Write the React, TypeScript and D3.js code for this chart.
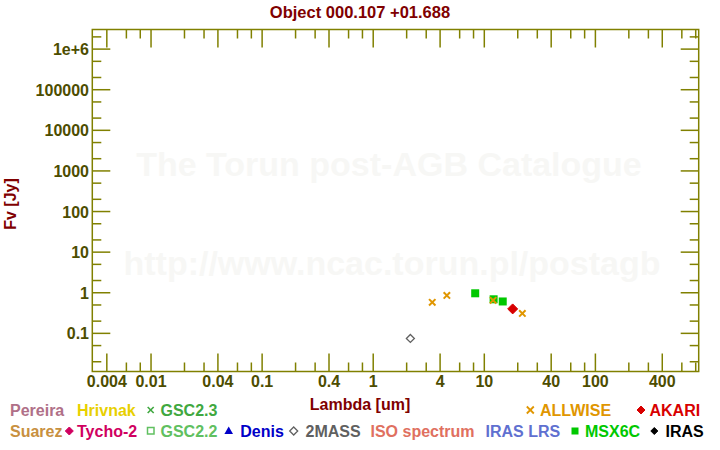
import React from "react";
import * as d3 from "d3";

const W = 720;
const H = 450;

// Data
const allwiseLambda = [3.4, 4.6, 12, 22];
const allwiseFlux = [0.58, 0.86, 0.65, 0.31];
const msxLambda = [8.28, 12.13, 14.65];
const msxFlux = [0.97, 0.69, 0.61];
const akariLambda = [18];
const akariFlux = [0.4];
const twomassLambda = [2.16];
const twomassFlux = [0.075];

const xMajor = [0.004, 0.01, 0.04, 0.1, 0.4, 1, 4, 10, 40, 100, 400];
const xMajorLabels = ["0.004", "0.01", "0.04", "0.1", "0.4", "1", "4", "10", "40", "100", "400"];
const xMinor = [0.006, 0.008, 0.02, 0.03, 0.06, 0.08, 0.2, 0.3, 0.6, 0.8, 2, 3, 6, 8, 20, 30, 60, 80, 200, 300, 600, 800];
const yMajor = [0.1, 1, 10, 100, 1000, 10000, 100000, 1000000];
const yMajorLabels = ["0.1", "1", "10", "100", "1000", "10000", "100000", "1e+6"];
const yMinor = [0.02, 0.05, 0.2, 0.5, 2, 5, 20, 50, 200, 500, 2000, 5000, 20000, 50000, 200000, 500000, 2000000];

const L = 92.3, R = 698.7, T = 29.5, B = 371.5;

const x = d3.scaleLog().domain([0.00296, 851]).range([L, R]);
const y = d3.scaleLog().domain([0.0115, 3.04e6]).range([B, T]);

const AXIS = "#808000";
const TICKTXT = "#4d4d00";
const DARKRED = "#800000";
const FONT = "'Liberation Sans', Arial, sans-serif";

const MAJ = 18;
const MIN = 9;

function Cross({ cx, cy, s, color, w = 2 }: { cx: number; cy: number; s: number; color: string; w?: number }) {
  return (
    <g stroke={color} strokeWidth={w}>
      <line x1={cx - s} y1={cy - s} x2={cx + s} y2={cy + s} />
      <line x1={cx - s} y1={cy + s} x2={cx + s} y2={cy - s} />
    </g>
  );
}

function Diamond({ cx, cy, s, fill, stroke, w = 1 }: { cx: number; cy: number; s: number; fill: string; stroke: string; w?: number }) {
  return (
    <path
      d={`M${cx},${cy - s}L${cx + s},${cy}L${cx},${cy + s}L${cx - s},${cy}Z`}
      fill={fill}
      stroke={stroke}
      strokeWidth={w}
    />
  );
}

export default function App() {
  const txt = { fontFamily: FONT, fontWeight: 700 } as const;
  return (
    <svg width={W} height={H} style={{ position: "absolute", left: 0, top: 0, background: "#fff" }}>
      <rect x={0} y={0} width={W} height={H} fill="#fff" />
      {/* watermark */}
      <text x={389} y={176} textAnchor="middle" fontSize={34} fill="#f7f7f5" style={txt}>
        The Torun post-AGB Catalogue
      </text>
      <text x={392} y={275} textAnchor="middle" fontSize={34} fill="#f7f7f5" style={txt}>
        http://www.ncac.torun.pl/postagb
      </text>

      {/* title */}
      <text x={360} y={18} textAnchor="middle" fontSize={16.5} fill={DARKRED} style={txt}>
        Object 000.107 +01.688
      </text>

      {/* frame */}
      <rect x={L} y={T} width={R - L} height={B - T} fill="none" stroke={AXIS} strokeWidth={1.5} />

      {/* x ticks */}
      {xMajor.map((v, i) => (
        <g key={"xm" + i} stroke={AXIS} strokeWidth={1.5}>
          <line x1={x(v)} x2={x(v)} y1={B} y2={B - MAJ} />
          <line x1={x(v)} x2={x(v)} y1={T} y2={T + MAJ} />
        </g>
      ))}
      {xMinor.map((v, i) => (
        <g key={"xn" + i} stroke={AXIS} strokeWidth={1.5}>
          <line x1={x(v)} x2={x(v)} y1={B} y2={B - MIN} />
          <line x1={x(v)} x2={x(v)} y1={T} y2={T + MIN} />
        </g>
      ))}
      {xMajor.map((v, i) => (
        <text key={"xl" + i} x={x(v)} y={387} textAnchor="middle" fontSize={16} fill={TICKTXT} style={txt}>
          {xMajorLabels[i]}
        </text>
      ))}

      {/* y ticks */}
      {yMajor.map((v, i) => (
        <g key={"ym" + i} stroke={AXIS} strokeWidth={1.5}>
          <line x1={L} x2={L + MAJ} y1={y(v)} y2={y(v)} />
          <line x1={R} x2={R - MAJ} y1={y(v)} y2={y(v)} />
        </g>
      ))}
      {yMinor.map((v, i) => (
        <g key={"yn" + i} stroke={AXIS} strokeWidth={1.5}>
          <line x1={L} x2={L + MIN} y1={y(v)} y2={y(v)} />
          <line x1={R} x2={R - MIN} y1={y(v)} y2={y(v)} />
        </g>
      ))}
      {yMajor.map((v, i) => (
        <text key={"yl" + i} x={89} y={y(v) + 6} textAnchor="end" fontSize={16} fill={TICKTXT} style={txt}>
          {yMajorLabels[i]}
        </text>
      ))}

      {/* axis titles */}
      <text x={360} y={410} textAnchor="middle" fontSize={16} fill={DARKRED} style={txt}>
        Lambda [um]
      </text>
      <text
        transform={`translate(16,204) rotate(-90)`}
        textAnchor="middle"
        fontSize={16}
        fill={DARKRED}
        style={txt}
      >
        Fv [Jy]
      </text>

      {/* data */}
      {twomassLambda.map((v, i) => (
        <Diamond key={"tm" + i} cx={x(v)} cy={y(twomassFlux[i])} s={4} fill="none" stroke="#606060" w={1.3} />
      ))}
      {msxLambda.map((v, i) => (
        <rect key={"ms" + i} x={x(v) - 4} y={y(msxFlux[i]) - 4} width={8} height={8} fill="#00c800" />
      ))}
      {akariLambda.map((v, i) => (
        <Diamond key={"ak" + i} cx={x(v)} cy={y(akariFlux[i])} s={5} fill="#d80000" stroke="#d80000" />
      ))}
      {allwiseLambda.map((v, i) => (
        <Cross key={"aw" + i} cx={x(v)} cy={y(allwiseFlux[i])} s={3.2} color="#e09600" w={2} />
      ))}

      {/* legend row 1 */}
      <g fontSize={16} style={txt}>
        <text x={10} y={416} fill="#b07088">Pereira</text>
        <text x={77} y={416} fill="#e8d000">Hrivnak</text>
        <Cross cx={150.7} cy={410} s={3} color="#40a840" w={1.6} />
        <text x={160.5} y={416} fill="#40a840">GSC2.3</text>
        <Cross cx={530.3} cy={410} s={3.5} color="#e09600" w={1.8} />
        <text x={540} y={416} fill="#e09600">ALLWISE</text>
        <Diamond cx={641} cy={410} s={4} fill="#d80000" stroke="#d80000" />
        <text x={649.5} y={416} fill="#d80000">AKARI</text>

        {/* legend row 2 */}
        <text x={10} y={437} fill="#c89040">Suarez</text>
        <Diamond cx={69.3} cy={431} s={4} fill="#d00060" stroke="#d00060" />
        <text x={77} y={437} fill="#d00060">Tycho-2</text>
        <rect x={147.5} y={427.5} width={6.5} height={6.5} fill="none" stroke="#60c060" strokeWidth={1.5} />
        <text x={160.5} y={437} fill="#60c060">GSC2.2</text>
        <path d={`M228.7,426.5L233,434L224.4,434Z`} fill="#0000c8" />
        <text x={240.3} y={437} fill="#0000c8">Denis</text>
        <Diamond cx={293.7} cy={431} s={4} fill="none" stroke="#606060" w={1.3} />
        <text x={305.5} y={437} fill="#606060">2MASS</text>
        <text x={370.5} y={437} fill="#e07060">ISO spectrum</text>
        <text x={485.5} y={437} fill="#6070d0">IRAS LRS</text>
        <rect x={571.5} y={427.5} width={7} height={7} fill="#00c800" />
        <text x={585} y={437} fill="#00c800">MSX6C</text>
        <Diamond cx={654.3} cy={431} s={3.5} fill="#000" stroke="#000" />
        <text x={665.5} y={437} fill="#000">IRAS</text>
      </g>
    </svg>
  );
}
